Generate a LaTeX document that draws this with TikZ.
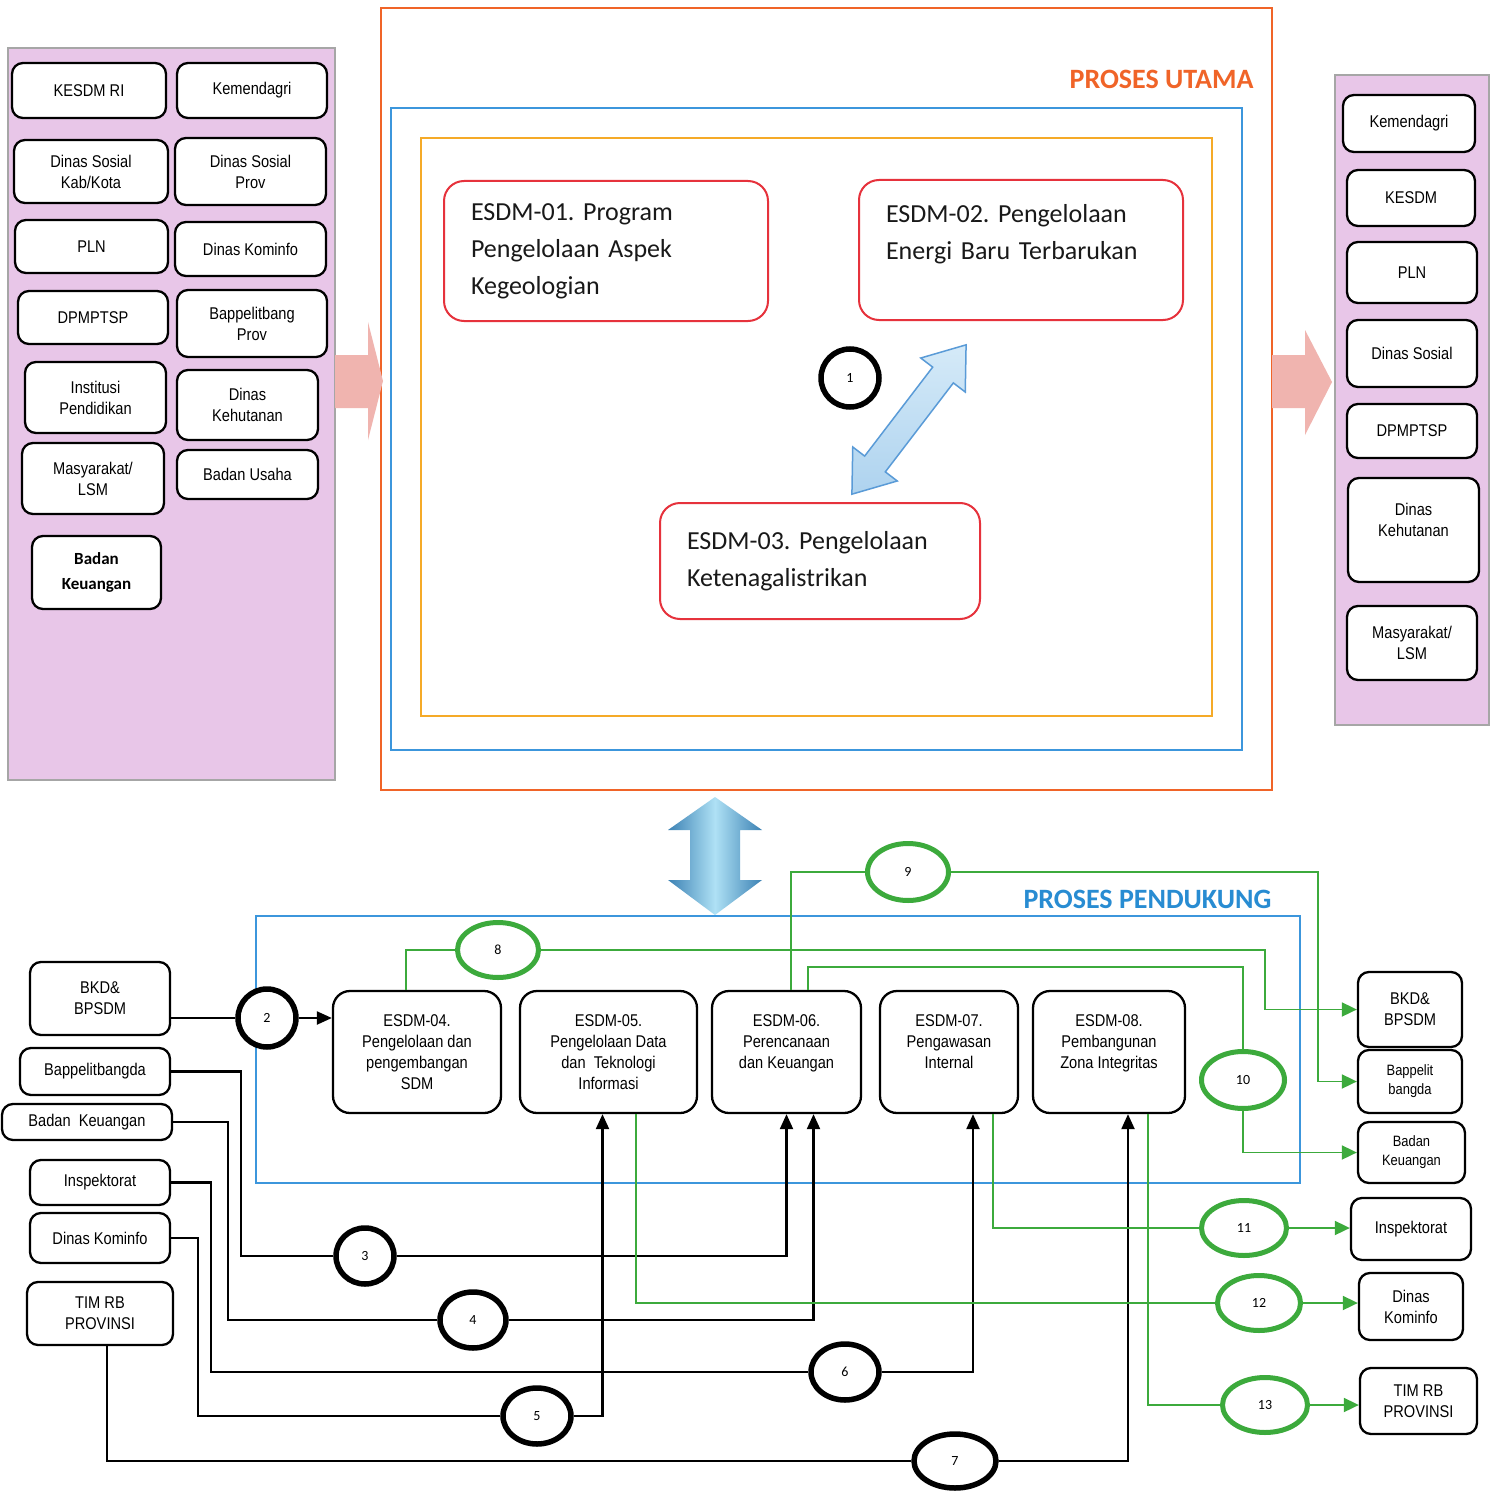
\documentclass[tikz,border=0pt]{standalone}
\usepackage{fontspec}
\setmainfont{Liberation Sans}
\newfontfamily\nf[FakeStretch=0.86]{Liberation Sans}
\newfontfamily\cf{Carlito}
\usetikzlibrary{shapes.geometric,arrows.meta,calc}
\definecolor{orangec}{RGB}{240,100,40}
\definecolor{bluec}{RGB}{60,150,220}
\definecolor{goldc}{RGB}{245,170,40}
\definecolor{redc}{RGB}{230,50,60}
\definecolor{pinkc}{RGB}{232,198,232}
\definecolor{greenc}{RGB}{60,170,60}
\definecolor{pinkarrow}{RGB}{240,180,175}
\definecolor{arrowdark}{RGB}{60,130,180}
\definecolor{arrowlight}{RGB}{175,225,245}
\definecolor{diagfill}{RGB}{195,225,245}
\definecolor{diagdraw}{RGB}{90,155,215}
\definecolor{pendc}{RGB}{40,140,210}
\frenchspacing
\begin{document}
\begin{tikzpicture}[x=1pt,y=-1pt,
  lbox/.style={draw=black, line width=2.3pt, rounded corners=11pt, fill=white, align=center, inner sep=0pt, font=\nf\fontsize{17}{21}\selectfont},
  sbox/.style={lbox, font=\nf\fontsize{15}{19}\selectfont},
  ebox/.style={lbox, rounded corners=17pt},
  rbox/.style={draw=redc, line width=2pt, rounded corners=20pt, fill=white, align=left, inner xsep=27pt, inner ysep=0pt, font=\cf\fontsize{26}{37}\selectfont, text=black!90},
  bcirc/.style={ellipse, draw=black, line width=5.5pt, fill=white, inner sep=0pt, font=\cf\fontsize{14}{16}\selectfont},
  gcirc/.style={ellipse, draw=greenc, line width=5pt, fill=white, inner sep=0pt, font=\cf\fontsize{14}{16}\selectfont},
  bline/.style={draw=black, line width=2.2pt},
  gline/.style={draw=greenc, line width=1.8pt},
  barr/.style={-{Triangle[length=15pt,width=13pt]}},
  garr/.style={-{Triangle[length=15pt,width=14pt]}},
  panel/.style={fill=pinkc, draw=black!35, line width=1.2pt}
]
\useasboundingbox (0,0) rectangle (1500,1493);
\fill[white] (0,0) rectangle (1500,1493);

% ---------- top section frames
\draw[panel] (8,48) rectangle (335,780);
\draw[panel] (1335,75) rectangle (1489,725);
\draw[orangec, line width=2pt] (381,8) rectangle (1272,790);
\draw[bluec, line width=2pt] (391,108) rectangle (1242,750);
\draw[goldc, line width=2pt] (421,138) rectangle (1212,716);

% pink block arrows
\fill[pinkarrow] (335,355) -- (368,355) -- (368,322) -- (383,381) -- (368,440) -- (368,408) -- (335,408) -- cycle;
\fill[pinkarrow] (1272,355) -- (1305,355) -- (1305,330) -- (1332,382) -- (1305,435) -- (1305,408) -- (1272,408) -- cycle;

\node[anchor=east, font=\cf\bfseries\fontsize{28}{30}\selectfont, text=orangec] (pu) at (1257,79) {PROSES UTAMA};

% left panel boxes
\node[lbox, minimum width=154, minimum height=55] (l1) at (89,90.5) {KESDM RI};
\node[lbox, minimum width=150, minimum height=55] (l2) at (252,90.5) {Kemendagri};
\node[lbox, minimum width=154, minimum height=63] (l3) at (91,171.5) {Dinas Sosial\\Kab/Kota};
\node[lbox, minimum width=151, minimum height=67] (l4) at (250.5,171.5) {Dinas Sosial\\Prov};
\node[lbox, minimum width=153, minimum height=53] (l5) at (91.5,246.5) {PLN};
\node[lbox, minimum width=151, minimum height=54] (l6) at (250.5,249) {Dinas Kominfo};
\node[lbox, minimum width=150, minimum height=53] (l7) at (93,317.5) {DPMPTSP};
\node[lbox, minimum width=150, minimum height=67] (l8) at (252,323.5) {Bappelitbang\\Prov};
\node[lbox, minimum width=141, minimum height=71] (l9) at (95.5,397.5) {Institusi\\Pendidikan};
\node[lbox, minimum width=141, minimum height=70] (l10) at (247.5,405) {Dinas\\Kehutanan};
\node[lbox, minimum width=142, minimum height=71] (l11) at (93,478.5) {Masyarakat/\\LSM};
\node[lbox, minimum width=141, minimum height=49] (l12) at (247.5,474.5) {Badan Usaha};
\node[lbox, minimum width=129, minimum height=73, font=\cf\bfseries\fontsize{17}{25}\selectfont] (l13) at (96.5,572.5) {Badan\\Keuangan};

% right panel boxes
\node[lbox, minimum width=132, minimum height=57] (r1) at (1409,123.5) {Kemendagri};
\node[lbox, minimum width=128, minimum height=56] (r2) at (1411,198) {KESDM};
\node[lbox, minimum width=130, minimum height=61] (r3) at (1412,272.5) {PLN};
\node[lbox, minimum width=130, minimum height=67] (r4) at (1412,353.5) {Dinas Sosial};
\node[lbox, minimum width=130, minimum height=54] (r5) at (1412,431) {DPMPTSP};
\node[lbox, minimum width=131, minimum height=104] (r6) at (1413.5,530) {Dinas\\Kehutanan\\\mbox{}};
\node[lbox, minimum width=130, minimum height=74] (r7) at (1412,643) {Masyarakat/\\LSM};

% main process boxes
\node[rbox, text width=270, minimum height=140] (e01) at (606,251) {ESDM-01. Program\\Pengelolaan Aspek\\Kegeologian};
\node[rbox, text width=270, minimum height=140] (e02) at (1021,250) {ESDM-02. Pengelolaan\\Energi Baru Terbarukan\\\mbox{}};
\node[rbox, text width=266, minimum height=116] (e03) at (820,561) {ESDM-03. Pengelolaan\\Ketenagalistrikan};

\node[bcirc, minimum width=58, minimum height=58] (c1) at (850,378) {1};

% diagonal double arrow
\begin{scope}[shift={(909,419.5)}, rotate=52.6]
\shade[top color=diagfill!70!white, bottom color=diagfill!80!diagdraw, draw=diagdraw, line width=1.5pt, line join=miter]
  (-94,0) -- (-56,-28) -- (-56,-13) -- (56,-13) -- (56,-28) -- (94,0) -- (56,28) -- (56,13) -- (-56,13) -- (-56,28) -- cycle;
\end{scope}

% vertical double arrow
\shade[left color=arrowdark, right color=arrowdark, middle color=arrowlight]
  (668,830) -- (715,797) -- (762,830) -- (740,830) -- (740,880) -- (762,880) -- (715,915) -- (668,880) -- (690,880) -- (690,830) -- cycle;

% ---------- bottom section
\draw[bluec, line width=2pt] (256,916) rectangle (1300,1183);
\node[anchor=east, font=\cf\bfseries\fontsize{28}{30}\selectfont, text=pendc] (pp) at (1275,899) {PROSES PENDUKUNG};

% left boxes
\node[lbox, minimum width=140, minimum height=73] (bkdL) at (100,998.5) {BKD\&\\BPSDM};
\node[lbox, minimum width=150, minimum height=47] (bapL) at (95,1071.5) {Bappelitbangda};
\node[lbox, minimum width=170, minimum height=36] (bkL) at (87,1122) {Badan\ \ Keuangan};
\node[lbox, minimum width=140, minimum height=45] (inL) at (100,1182.5) {Inspektorat};
\node[lbox, minimum width=140, minimum height=50] (dkL) at (100,1238) {Dinas Kominfo};
\node[lbox, minimum width=146, minimum height=63] (tmL) at (100,1313.5) {TIM RB\\PROVINSI};

% support process boxes
\node[ebox, minimum width=168, minimum height=122] (e04) at (417,1052) {ESDM-04.\\Pengelolaan dan\\pengembangan\\SDM};
\node[ebox, minimum width=177, minimum height=122] (e05) at (608.5,1052) {ESDM-05.\\Pengelolaan Data\\dan\ \ Teknologi\\Informasi};
\node[ebox, minimum width=149, minimum height=122] (e06) at (786.5,1052) {ESDM-06.\\Perencanaan\\dan Keuangan\\\mbox{}};
\node[ebox, minimum width=138, minimum height=122] (e07) at (949,1052) {ESDM-07.\\Pengawasan\\Internal\\\mbox{}};
\node[ebox, minimum width=152, minimum height=122] (e08) at (1109,1052) {ESDM-08.\\Pembangunan\\Zona Integritas\\\mbox{}};

% right boxes
\node[lbox, minimum width=104, minimum height=75] (bkdR) at (1410,1009.5) {BKD\&\\BPSDM};
\node[sbox, minimum width=104, minimum height=63] (bapR) at (1410,1081.5) {Bappelit\\bangda};
\node[sbox, minimum width=107, minimum height=61] (bkR) at (1411.5,1152.5) {Badan\\Keuangan};
\node[lbox, minimum width=120, minimum height=62] (inR) at (1411,1229) {Inspektorat};
\node[lbox, minimum width=104, minimum height=67] (dkR) at (1411,1306.5) {Dinas\\Kominfo};
\node[lbox, minimum width=117, minimum height=66] (tmR) at (1418.5,1401) {TIM RB\\PROVINSI};

% circles
\node[bcirc, minimum width=58, minimum height=58] (c2) at (267,1018) {2};
\node[bcirc, minimum width=58, minimum height=56] (c3) at (365,1256) {3};
\node[bcirc, minimum width=66, minimum height=56] (c4) at (473,1320) {4};
\node[bcirc, minimum width=68, minimum height=56] (c5) at (537,1416) {5};
\node[bcirc, minimum width=68, minimum height=56] (c6) at (845,1372) {6};
\node[bcirc, minimum width=82, minimum height=54] (c7) at (955,1461) {7};
\node[gcirc, minimum width=81, minimum height=55] (c8) at (498,950) {8};
\node[gcirc, minimum width=81, minimum height=57] (c9) at (908,872) {9};
\node[gcirc, minimum width=83, minimum height=57] (c10) at (1243,1080) {10};
\node[gcirc, minimum width=85, minimum height=55] (c11) at (1244,1228) {11};
\node[gcirc, minimum width=83, minimum height=55] (c12) at (1259,1303) {12};
\node[gcirc, minimum width=85, minimum height=55] (c13) at (1265,1405) {13};

% black input connectors
\draw[bline] (c2.west -| bkdL.east) -- (c2.west);
\draw[bline,barr] (c2.east) -- (c2.east -| e04.west);
\draw[bline] (bapL.east) -- ++(70,0) |- (c3.west);
\draw[bline,barr] (c3.east) -| (e06.south);
\draw[bline] (bkL.east) -- ++(55,0) |- (c4.west);
\draw[bline,barr] (c4.east) -| ([xshift=27pt]e06.south);
\draw[bline] (inL.east) -- ++(40,0) |- (c6.west);
\draw[bline,barr] (c6.east) -| ([xshift=24pt]e07.south);
\draw[bline] (dkL.east) -- ++(27,0) |- (c5.west);
\draw[bline,barr] (c5.east) -| ([xshift=-6pt]e05.south);
\draw[bline] ([xshift=7pt]tmL.south) |- (c7.west);
\draw[bline,barr] (c7.east) -| ([xshift=19pt]e08.south);

% green output connectors
\coordinate (k8) at (1265,950);
\coordinate (k9) at (1318,872);
\coordinate (k10) at (1243,967);
\draw[gline] ([xshift=-11pt]e04.north) |- (c8.west);
\draw[gline,garr] (c8.east) -- (k8) |- (bkdR.west);
\draw[gline] ([xshift=4.5pt]e06.north) |- (c9.west);
\draw[gline,garr] (c9.east) -- (k9) |- (bapR.west);
\draw[gline] ([xshift=21.5pt]e06.north) |- (k10) -- (c10.north);
\draw[gline,garr] (c10.south) |- (bkR.west);
\draw[gline] ([xshift=44pt]e07.south) |- (c11.west);
\draw[gline,garr] (c11.east) -- (c11.east -| inR.west);
\draw[gline] ([xshift=27.5pt]e05.south) |- (c12.west);
\draw[gline,garr] (c12.east) -- (c12.east -| dkR.west);
\draw[gline] ([xshift=39pt]e08.south) |- (c13.west);
\draw[gline,garr] (c13.east) -- (c13.east -| tmR.west);
\end{tikzpicture}
\end{document}
